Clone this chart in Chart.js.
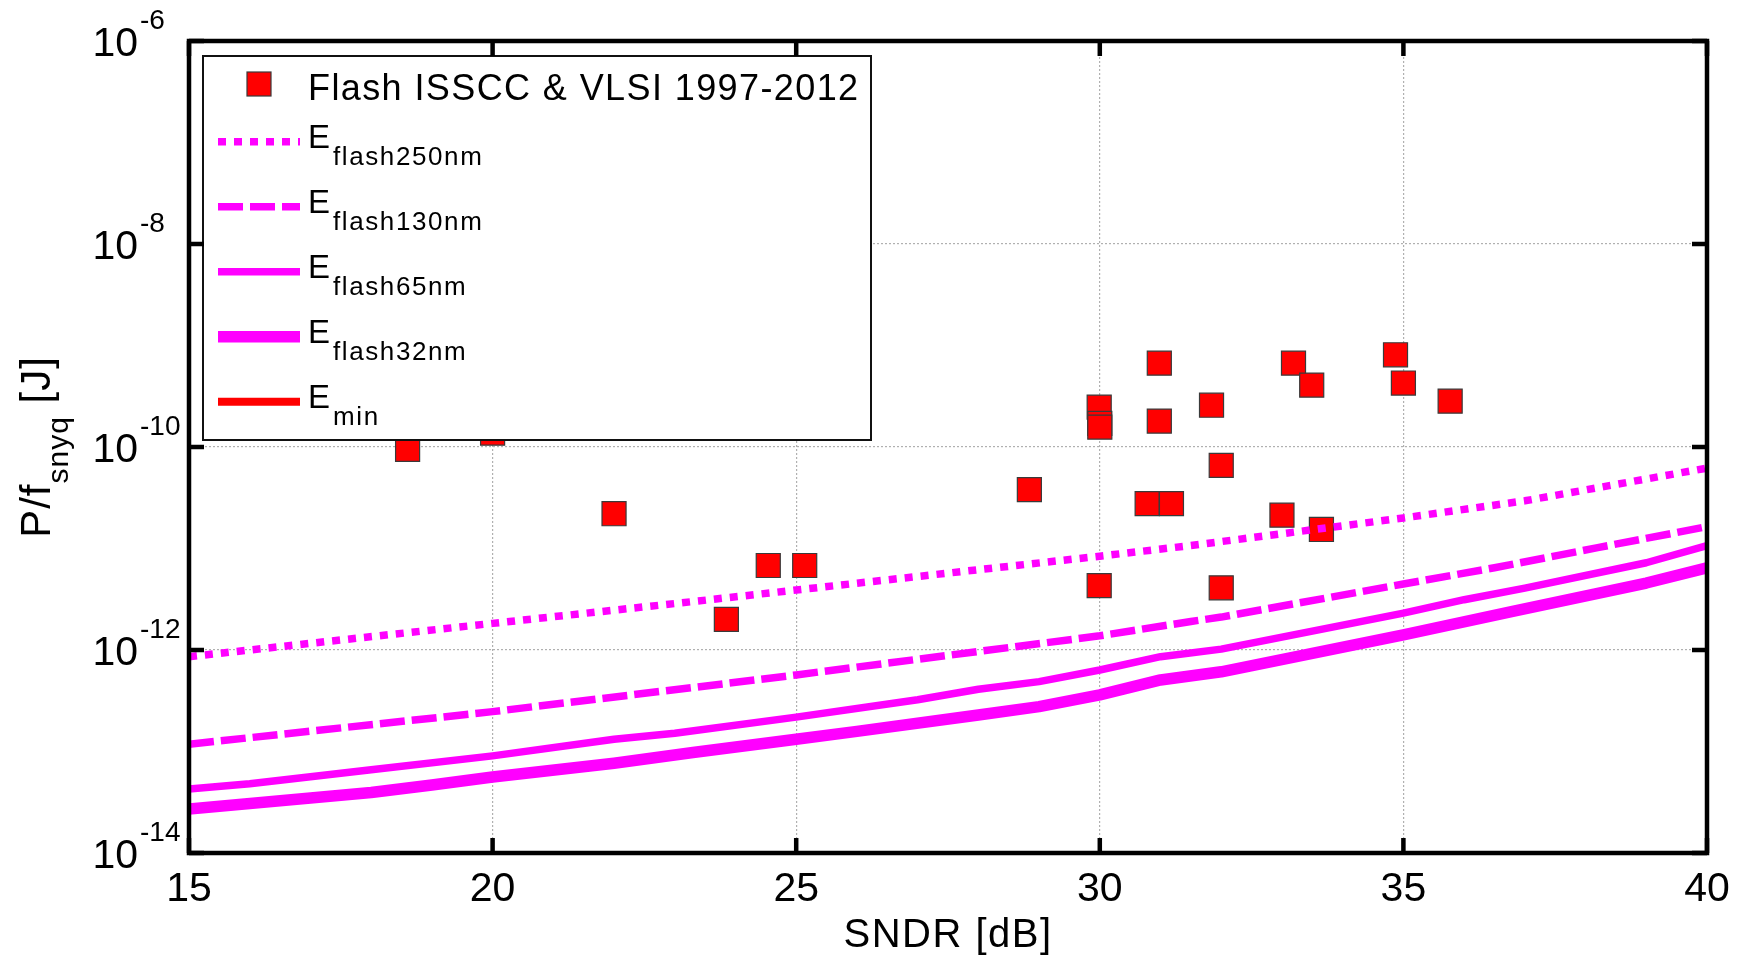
<!DOCTYPE html>
<html>
<head>
<meta charset="utf-8">
<title>Flash ADC energy vs SNDR</title>
<script src="https://cdn.jsdelivr.net/npm/chart.js@4.4.1/dist/chart.umd.min.js"></script>
<style>
    html, body { margin: 0; padding: 0; background: #fff; }
    #chart { display: block; }
</style>
</head>
<body>
<canvas id="chart" width="1746" height="959"></canvas>
<script>
// ============================================
// Data
// ============================================

// Flash ADCs, ISSCC & VLSI 1997-2012 (SNDR in dB, energy in J)
const flashX = [18.6, 20.0, 22.0, 23.85, 24.54, 25.14, 28.84, 29.99, 30.0, 30.0,
                29.99, 30.78, 30.98, 30.98, 31.18, 31.84, 32.0, 32.0, 33.0, 33.19,
                33.49, 33.65, 34.87, 35.0, 35.77];
const flashY = [0.95e-10, 1.37e-10, 2.2e-11, 2.0e-12, 6.8e-12, 6.8e-12, 3.8e-11, 2.47e-10, 1.71e-10, 1.57e-10,
                4.3e-12, 2.77e-11, 6.7e-10, 1.8e-10, 2.77e-11, 2.58e-10, 6.6e-11, 4.1e-12, 2.13e-11, 6.7e-10,
                4.07e-10, 1.54e-11, 8.1e-10, 4.27e-10, 2.83e-10];

// E_flash250nm (dotted)
const e250X = [15, 20, 23.3, 25, 30, 31.5, 35, 37, 40];
const e250Y = [8.6e-13, 1.83e-12, 3.0e-12, 3.9e-12, 8.4e-12, 1.07e-11, 2.0e-11, 2.95e-11, 6.2e-11];

// E_flash130nm (dashed)
const e130X = [15, 20, 23.3, 25, 30, 31.5, 32, 35, 36.5, 38.2, 40];
const e130Y = [1.18e-13, 2.47e-13, 4.27e-13, 5.68e-13, 1.38e-12, 1.91e-12, 2.11e-12, 4.47e-12, 6.46e-12, 1.02e-11, 1.64e-11];

// E_flash65nm (solid)
const e65X = [15, 16, 18, 20, 22, 23, 25, 27, 28, 29, 30, 31, 32, 35, 36, 37, 39, 40];
const e65Y = [4.27e-14, 4.81e-14, 6.61e-14, 9.06e-14, 1.32e-13, 1.51e-13, 2.18e-13, 3.24e-13, 4.10e-13, 4.88e-13,
              6.35e-13, 8.59e-13, 1.02e-12, 2.31e-12, 3.13e-12, 4.07e-12, 7.24e-12, 1.07e-11];

// E_flash32nm (thick solid)
const e32X = [15, 18, 19, 20, 22, 23.3, 25, 26, 28, 29, 30, 31, 32, 35, 36.8, 39, 40];
const e32Y = [2.71e-14, 3.94e-14, 4.68e-14, 5.60e-14, 7.67e-14, 9.77e-14, 1.32e-13, 1.58e-13, 2.29e-13, 2.77e-13,
              3.61e-13, 5.07e-13, 6.10e-13, 1.41e-12, 2.40e-12, 4.57e-12, 6.46e-12];

// E_min is below the visible range, only shows up in the legend
const eminX = [];
const eminY = [];

// Axis ticks
const xTicks = [15, 20, 25, 30, 35, 40];
const yTickExp = [-14, -12, -10, -8, -6];

const legendLabels = ['Flash ISSCC & VLSI 1997-2012', 'flash250nm', 'flash130nm', 'flash65nm', 'flash32nm', 'min'];

// ============================================
// Helpers
// ============================================

const FONT = '"Liberation Sans", Arial, Helvetica, sans-serif';
const MAGENTA = '#ff00ff';

function toPoints(xs, ys) {
    const pts = [];
    for (let i = 0; i < xs.length; i++) {
        pts.push({ x: xs[i], y: ys[i] });
    }
    return pts;
}

function setFont(ctx, size, spacing) {
    ctx.font = size + 'px ' + FONT;
    if ('letterSpacing' in ctx) ctx.letterSpacing = (spacing || 0) + 'px';
}

// line styles shared by plot and legend
const lineStyles = [
    { width: 7.5, dash: [8, 8], color: MAGENTA },
    { width: 7.5, dash: [25, 7], color: MAGENTA },
    { width: 7.5, dash: [], color: MAGENTA },
    { width: 11.5, dash: [], color: MAGENTA },
    { width: 8, dash: [], color: '#ff0000' }
];

// ============================================
// Custom drawing: axes box, ticks, labels, legend
// ============================================

const matlabAxes = {
    id: 'matlabAxes',
    afterDraw(chart) {
        const ctx = chart.ctx;
        const area = chart.chartArea;
        const xs = chart.scales.x;
        const ys = chart.scales.y;

        ctx.save();

        // --- legend box (drawn over data, like MATLAB) ---
        const lx = 203, ly = 56, lw = 668, lh = 384;
        ctx.fillStyle = '#fff';
        ctx.fillRect(lx, ly, lw, lh);
        ctx.strokeStyle = '#111';
        ctx.lineWidth = 2;
        ctx.setLineDash([]);
        ctx.strokeRect(lx, ly, lw, lh);

        // marker entry
        ctx.fillStyle = '#ff0000';
        ctx.fillRect(247, 72, 24, 24);
        ctx.strokeStyle = '#3a3a3a';
        ctx.lineWidth = 1.2;
        ctx.strokeRect(247, 72, 24, 24);

        ctx.fillStyle = '#000';
        ctx.textAlign = 'left';
        ctx.textBaseline = 'alphabetic';
        setFont(ctx, 36, 1.4);
        ctx.fillText(legendLabels[0], 308, 100);

        // line entries
        for (let i = 0; i < lineStyles.length; i++) {
            const st = lineStyles[i];
            const rowY = 141.7 + i * 65;
            ctx.strokeStyle = st.color;
            ctx.lineWidth = st.width;
            ctx.lineCap = 'butt';
            ctx.setLineDash(st.dash);
            ctx.beginPath();
            ctx.moveTo(218, rowY);
            ctx.lineTo(300, rowY);
            ctx.stroke();
            ctx.setLineDash([]);

            ctx.fillStyle = '#000';
            setFont(ctx, 33, 0);
            ctx.fillText('E', 308, rowY + 6);
            setFont(ctx, 26, 1.6);
            ctx.fillText(legendLabels[i + 1], 333, rowY + 23);
        }

        // --- axes box ---
        ctx.strokeStyle = '#000';
        ctx.lineWidth = 4.5;
        ctx.setLineDash([]);
        ctx.strokeRect(area.left, area.top, area.right - area.left, area.bottom - area.top);

        // inward ticks
        const tl = 15;
        ctx.beginPath();
        for (let i = 0; i < xTicks.length; i++) {
            const px = xs.getPixelForValue(xTicks[i]);
            ctx.moveTo(px, area.bottom);
            ctx.lineTo(px, area.bottom - tl);
            ctx.moveTo(px, area.top);
            ctx.lineTo(px, area.top + tl);
        }
        for (let i = 0; i < yTickExp.length; i++) {
            const py = ys.getPixelForValue(Math.pow(10, yTickExp[i]));
            ctx.moveTo(area.left, py);
            ctx.lineTo(area.left + tl, py);
            ctx.moveTo(area.right, py);
            ctx.lineTo(area.right - tl, py);
        }
        ctx.stroke();

        // --- tick labels ---
        ctx.fillStyle = '#000';
        ctx.textAlign = 'center';
        setFont(ctx, 41, 0);
        for (let i = 0; i < xTicks.length; i++) {
            const px = xs.getPixelForValue(xTicks[i]);
            ctx.fillText(String(xTicks[i]), px, 901);
        }

        for (let i = 0; i < yTickExp.length; i++) {
            const py = ys.getPixelForValue(Math.pow(10, yTickExp[i]));
            const base = py + 15;
            ctx.textAlign = 'right';
            setFont(ctx, 41, 0);
            ctx.fillText('10', 138, base);
            ctx.textAlign = 'left';
            setFont(ctx, 28, 0);
            ctx.fillText(String(yTickExp[i]), 140, base - 27);
        }

        // --- axis titles ---
        ctx.textAlign = 'center';
        setFont(ctx, 40, 1.5);
        ctx.fillText('SNDR [dB]', (area.left + area.right) / 2, 947);

        // y title with subscript, rotated
        ctx.save();
        ctx.translate(50, (area.top + area.bottom) / 2);
        ctx.rotate(-Math.PI / 2);
        ctx.textAlign = 'left';
        setFont(ctx, 42, 1);
        const w1 = ctx.measureText('P/f').width;
        const w3 = ctx.measureText(' [J]').width;
        setFont(ctx, 30, 1);
        const w2 = ctx.measureText('snyq').width;
        let cx = -(w1 + w2 + w3) / 2;
        setFont(ctx, 42, 1);
        ctx.fillText('P/f', cx, 0);
        cx += w1;
        setFont(ctx, 30, 1);
        ctx.fillText('snyq', cx, 18);
        cx += w2;
        setFont(ctx, 42, 1);
        ctx.fillText(' [J]', cx, 0);
        ctx.restore();

        ctx.restore();
    }
};

// ============================================
// Chart
// ============================================

function lineDataset(label, xs, ys, st) {
    return {
        label: label,
        data: toPoints(xs, ys),
        showLine: true,
        borderColor: st.color,
        backgroundColor: st.color,
        borderWidth: st.width,
        borderDash: st.dash,
        borderCapStyle: 'butt',
        borderJoinStyle: 'round',
        pointRadius: 0,
        tension: 0,
        order: 1
    };
}

const datasets = [
    {
        label: legendLabels[0],
        data: toPoints(flashX, flashY),
        pointStyle: 'rect',
        pointRadius: 17,
        backgroundColor: '#ff0000',
        borderColor: '#3a3a3a',
        borderWidth: 1.2,
        showLine: false,
        order: 2
    },
    lineDataset('E flash250nm', e250X, e250Y, lineStyles[0]),
    lineDataset('E flash130nm', e130X, e130Y, lineStyles[1]),
    lineDataset('E flash65nm', e65X, e65Y, lineStyles[2]),
    lineDataset('E flash32nm', e32X, e32Y, lineStyles[3]),
    lineDataset('E min', eminX, eminY, lineStyles[4])
];

const gridStyle = {
    color: function(c) {
        // skip the grid lines that sit on the box edges
        if (c.index === 0 || c.index === c.scale.ticks.length - 1) return 'rgba(0,0,0,0)';
        return '#b0b0b0';
    },
    lineWidth: 1.2,
    drawTicks: false
};

new Chart(document.getElementById('chart'), {
    type: 'scatter',
    data: { datasets: datasets },
    plugins: [matlabAxes],
    options: {
        responsive: false,
        animation: false,
        events: [],
        layout: { padding: { left: 189, right: 39, top: 41, bottom: 106 } },
        plugins: {
            legend: { display: false },
            tooltip: { enabled: false }
        },
        scales: {
            x: {
                type: 'linear',
                min: 15,
                max: 40,
                afterBuildTicks: function(scale) {
                    scale.ticks = xTicks.map(function(v) { return { value: v }; });
                },
                ticks: { display: false },
                grid: gridStyle,
                border: { display: false, dash: [2, 2] }
            },
            y: {
                type: 'logarithmic',
                min: 1e-14,
                max: 1e-6,
                afterBuildTicks: function(scale) {
                    scale.ticks = yTickExp.map(function(e) { return { value: Math.pow(10, e) }; });
                },
                ticks: { display: false },
                grid: gridStyle,
                border: { display: false, dash: [2, 2] }
            }
        }
    }
});
</script>
</body>
</html>
